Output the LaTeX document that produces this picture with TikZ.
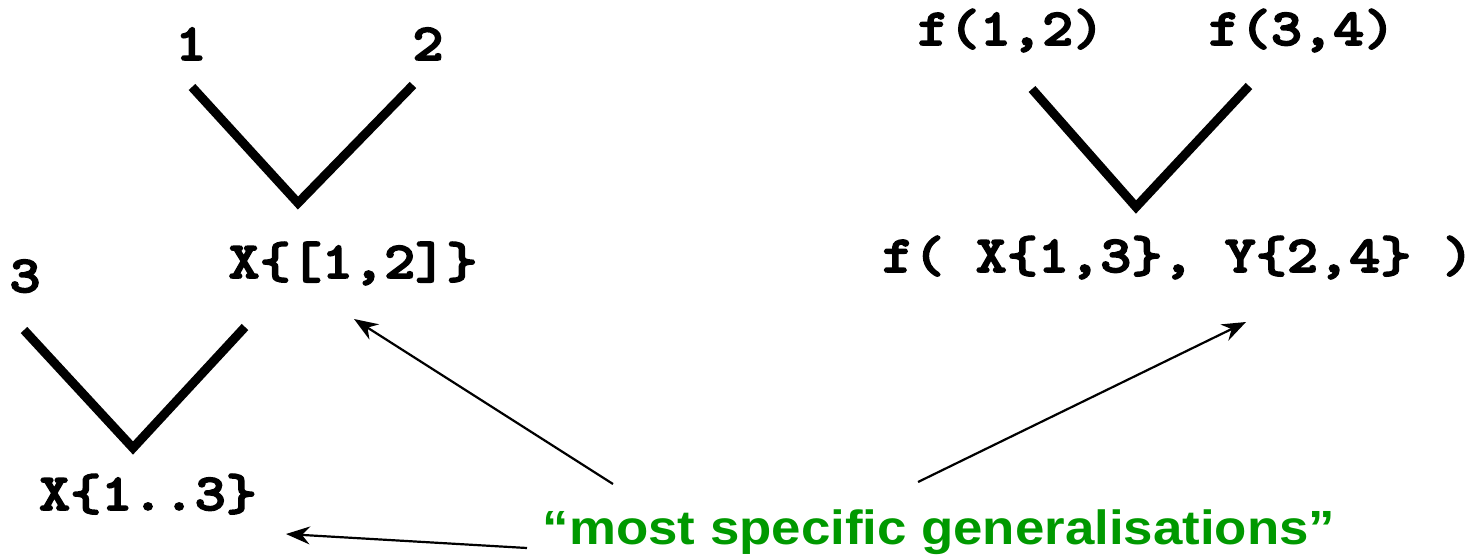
\documentclass[tikz,border=0pt]{standalone}
\usepackage{fontspec}
\setsansfont{Liberation Sans}
% slab-serif typewriter face for the terms, widened to a Courier-like pitch
\newfontfamily\slabmono{lmmonolt10-bold}[Extension=.otf, FakeStretch=1.14, FakeBold=3]
\usetikzlibrary{arrows.meta}
\definecolor{labelgreen}{RGB}{0,153,0}
\tikzset{
  term/.style={anchor=base, inner sep=0pt, font=\fontsize{52}{60}\selectfont\slabmono},
  vee/.style={line width=9pt, line join=miter, line cap=butt},
  pointer/.style={line width=2.2pt, -{Stealth[length=24pt, width=18pt, inset=8pt]}},
  caption/.style={anchor=base, inner sep=0pt, text=labelgreen, font=\fontsize{48}{56}\selectfont\sffamily\bfseries}
}
\begin{document}
\begin{tikzpicture}[x=1pt, y=-1pt]
  \useasboundingbox (0,0) rectangle (1483,558);

  % first join: 1 and 2
  \node[term] (one) at (191,60) {1};
  \node[term] (two) at (428,60) {2};
  \node[term] (x12) at (353,278) {X\{[1,2]\}};
  \coordinate (v1l) at (192,87);
  \coordinate (v1b) at (298,203);
  \coordinate (v1r) at (413,85);
  \draw[vee] (v1l) -- (v1b) -- (v1r);

  % second join: 3 with X{[1,2]}
  \node[term] (three) at (25,292) {3};
  \node[term] (x13) at (148,510) {X\{1..3\}};
  \coordinate (v2l) at (24,330);
  \coordinate (v2b) at (133,448);
  \coordinate (v2r) at (245,327);
  \draw[vee] (v2l) -- (v2b) -- (v2r);

  % compound terms
  \node[term] (f12) at (1011,45) {f(1,2)};
  \node[term] (f34) at (1302,45) {f(3,4)};
  \node[term] (fxy) at (1178,272) {f( X\{1,3\}, Y\{2,4\} )};
  \coordinate (v3l) at (1032,89);
  \coordinate (v3b) at (1136,207);
  \coordinate (v3r) at (1249,86);
  \draw[vee] (v3l) -- (v3b) -- (v3r);

  % caption and pointers
  \node[caption] (msg) at (939,544) {\scalebox{1.1}[1]{“most specific generalisations”}};
  \coordinate (a1s) at (613,484);
  \coordinate (a1t) at (354,319);
  \coordinate (a2s) at (527,548);
  \coordinate (a2t) at (286,534);
  \coordinate (a3s) at (918,482);
  \coordinate (a3t) at (1246,322);
  \draw[pointer] (a1s) -- (a1t);
  \draw[pointer] (a2s) -- (a2t);
  \draw[pointer] (a3s) -- (a3t);
\end{tikzpicture}
\end{document}
